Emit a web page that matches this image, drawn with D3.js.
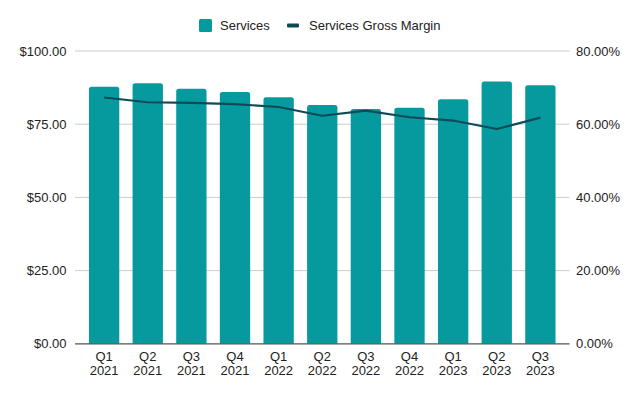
<!DOCTYPE html>
<html><head><meta charset="utf-8">
<script src="https://cdn.jsdelivr.net/npm/d3@7/dist/d3.min.js"></script>
<style>body{margin:0;background:#fff}svg{display:block;font-family:"Liberation Sans",Arial,sans-serif}</style>
</head><body><svg id="c" width="640" height="396"></svg>
<script>
const quarters = ["Q1","Q2","Q3","Q4","Q1","Q2","Q3","Q4","Q1","Q2","Q3"];
const years = ["2021","2021","2021","2021","2022","2022","2022","2022","2023","2023","2023"];
const services = [87.8, 89.0, 87.1, 86.0, 84.2, 81.6, 80.2, 80.6, 83.5, 89.6, 88.3];
const grossMargin = [67.3, 66.0, 65.8, 65.5, 64.7, 62.3, 63.7, 61.9, 61.0, 58.7, 61.8];
const leftTicks = [0, 25, 50, 75, 100];
const rightTicks = [0, 20, 40, 60, 80];

const svg = d3.select("#c");
const L = 75, R = 569.5, T = 51, B = 343.8;
const cats = quarters.map((q,i)=>q+" "+years[i]);
const x = d3.scaleBand().domain(cats).range([L,R]).paddingInner(0.305).paddingOuter(0.32);
const yL = d3.scaleLinear().domain([0,100]).range([B,T]);
const yR = d3.scaleLinear().domain([0,80]).range([B,T]);

// gridlines
svg.append("g").selectAll("line").data(leftTicks.filter(d=>d>0)).join("line")
  .attr("x1",L).attr("x2",R).attr("y1",d=>yL(d)).attr("y2",d=>yL(d))
  .attr("stroke","#cccccc").attr("stroke-width",1);

// left axis labels
svg.append("g").selectAll("text").data(leftTicks).join("text")
  .attr("x",66.5).attr("y",d=>yL(d)).attr("dy","0.35em").attr("text-anchor","end")
  .attr("font-size",13).attr("fill","#222").text(d=>"$"+d3.format(".2f")(d));
// right axis labels
svg.append("g").selectAll("text").data(rightTicks).join("text")
  .attr("x",576).attr("y",d=>yR(d)).attr("dy","0.35em").attr("text-anchor","start")
  .attr("font-size",13).attr("fill","#222").text(d=>d3.format(".2f")(d)+"%");

// bars with rounded tops
const r = 2.5;
svg.append("g").selectAll("path").data(services).join("path")
  .attr("fill","#069a9e")
  .attr("d",(d,i)=>{
    const x0 = x(cats[i]), w = x.bandwidth(), y0 = yL(d);
    return `M${x0},${B}V${y0+r}Q${x0},${y0} ${x0+r},${y0}H${x0+w-r}Q${x0+w},${y0} ${x0+w},${y0+r}V${B}Z`;
  });

// baseline
svg.append("line").attr("x1",L).attr("x2",R).attr("y1",B).attr("y2",B)
  .attr("stroke","#555").attr("stroke-width",1.3);

// line
const line = d3.line().x((d,i)=>x(cats[i])+x.bandwidth()/2).y(d=>yR(d));
svg.append("path").datum(grossMargin).attr("d",line).attr("fill","none")
  .attr("stroke","#0d4a57").attr("stroke-width",2.2).attr("stroke-linejoin","round");

// x labels
const xl = svg.append("g").selectAll("text").data(cats).join("text")
  .attr("x",d=>x(d)+x.bandwidth()/2).attr("text-anchor","middle")
  .attr("font-size",13).attr("fill","#222");
xl.append("tspan").attr("x",d=>x(d)+x.bandwidth()/2).attr("y",361).text((d,i)=>quarters[i]);
xl.append("tspan").attr("x",d=>x(d)+x.bandwidth()/2).attr("y",375).text((d,i)=>years[i]);

// legend
const lg = svg.append("g");
lg.append("rect").attr("x",199).attr("y",19).attr("width",13).attr("height",13).attr("rx",1.5).attr("fill","#069a9e");
lg.append("text").attr("x",220).attr("y",25.5).attr("dy","0.35em").attr("font-size",13).attr("fill","#222").text("Services");
lg.append("rect").attr("x",287).attr("y",23.5).attr("width",12).attr("height",4).attr("rx",1).attr("fill","#0d4a57");
lg.append("text").attr("x",309).attr("y",25.5).attr("dy","0.35em").attr("font-size",13).attr("fill","#222").text("Services Gross Margin");
</script></body></html>
